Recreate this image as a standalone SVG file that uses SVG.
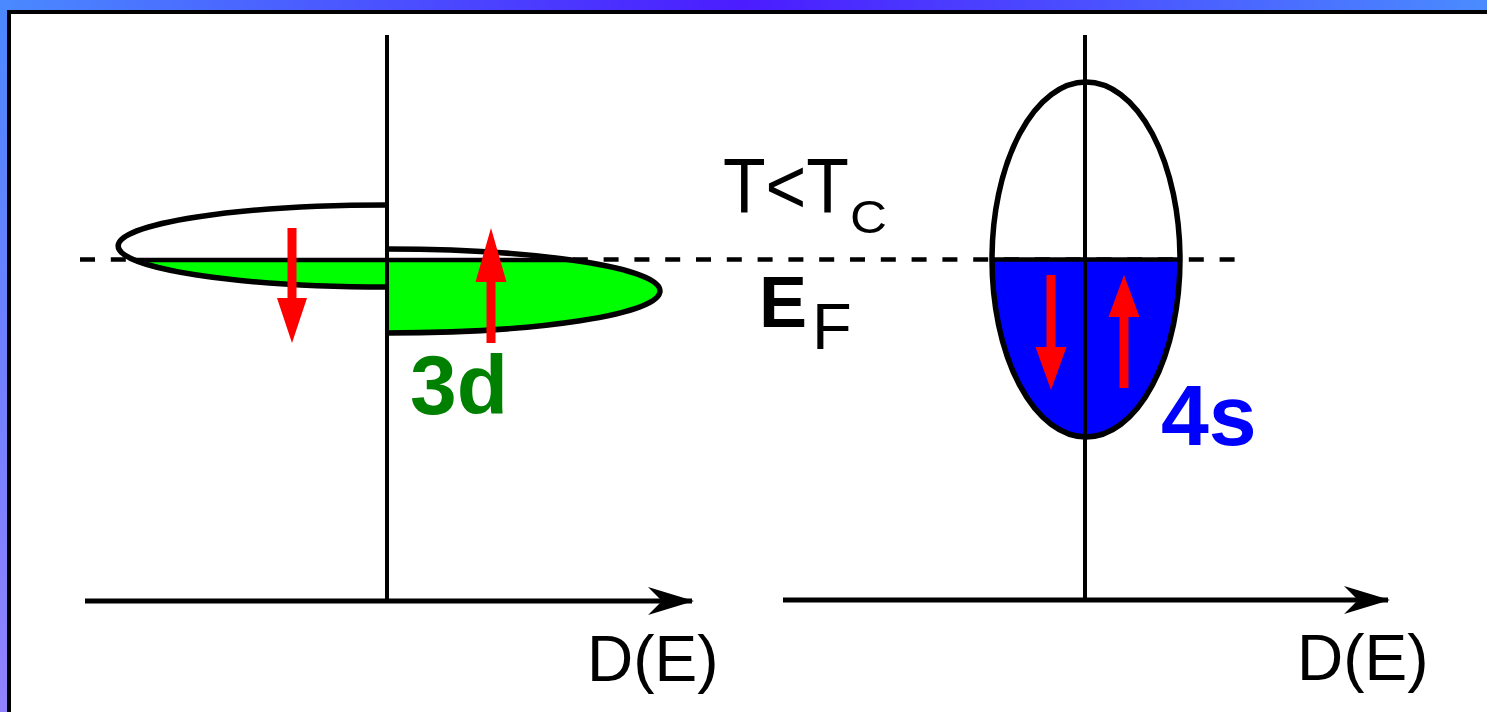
<svg xmlns="http://www.w3.org/2000/svg" width="1487" height="712" viewBox="0 0 1487 712">
  <defs>
    <linearGradient id="topg" x1="0" y1="0" x2="1" y2="0">
      <stop offset="0" stop-color="#4a8aff"/>
      <stop offset="0.5" stop-color="#4b1cff"/>
      <stop offset="1" stop-color="#4a8cff"/>
    </linearGradient>
    <linearGradient id="leftg" x1="0" y1="0" x2="0" y2="1">
      <stop offset="0" stop-color="#4a88ff"/>
      <stop offset="0.5" stop-color="#6f80ff"/>
      <stop offset="1" stop-color="#9282ff"/>
    </linearGradient>
    <marker id="ah" viewBox="0 0 46 28" refX="44" refY="14" markerWidth="46" markerHeight="28" markerUnits="userSpaceOnUse" orient="auto">
      <path d="M0,0 L46,14 L0,28 L14,14 Z" fill="#000"/>
    </marker>
    <style>
      .ax { stroke:#000; stroke-width:5; fill:none; }
      .vax { stroke:#000; stroke-width:4; fill:none; }
      .out { stroke:#000; stroke-width:5.5; fill:none; }
      .ef { stroke:#000; stroke-width:4.5; }
      .red { fill:#ff0000; }
      .lbl { font-family:"Liberation Sans", Arial, sans-serif; fill:#000; }
    </style>
  </defs>

  <g id="frame">
    <rect x="0" y="0" width="1487" height="712" fill="url(#leftg)"/>
    <rect x="0" y="0" width="1487" height="12" fill="url(#topg)"/>
    <rect x="9" y="12" width="1490" height="710" fill="#fff" stroke="#000" stroke-width="4"/>
  </g>

  <g id="fermi-level">
    <line x1="80" y1="259.5" x2="1236" y2="259.5" class="ef" stroke-dasharray="15 15.8"/>
  </g>

  <g id="dos-3d">
    <path d="M387,205 A269,41 0 0 0 387,287 Z" fill="#fff"/>
    <path d="M134.2,260 L387,260 L387,287 A269,41 0 0 1 134.2,260 Z" fill="#00ff00"/>
    <path d="M387,249 A273,42 0 0 1 387,333 Z" fill="#fff"/>
    <path d="M387,260 L571.2,260 A273,42 0 0 1 387,333 Z" fill="#00ff00"/>
    <line x1="134" y1="260" x2="571" y2="260" class="ef"/>
    <path d="M387,205 A269,41 0 0 0 387,287" class="out"/>
    <path d="M387,249 A273,42 0 0 1 387,333" class="out"/>
    <path class="red" d="M287.5,228 H296.5 V298 H307 L292,343 L277,298 H287.5 Z"/>
    <path class="red" d="M491,228 L506.5,282 H495.5 V343 H486.5 V282 H475.5 Z"/>
  </g>

  <g id="dos-4s">
    <path d="M992,259.5 A94,177.5 0 0 0 1180,259.5 Z" fill="#0000ff"/>
    <line x1="992" y1="259.5" x2="1180" y2="259.5" class="ef"/>
    <ellipse cx="1086" cy="259.5" rx="94" ry="177.5" class="out"/>
    <path class="red" d="M1046.5,275 H1055.5 V347 H1066.5 L1051,390 L1035.5,347 H1046.5 Z"/>
    <path class="red" d="M1124,275 L1139.5,317 H1128.5 V388 H1119.5 V317 H1108.5 Z"/>
  </g>

  <g id="connectors">
    <line x1="387" y1="35" x2="387" y2="601" class="vax"/>
    <line x1="1085" y1="35" x2="1085" y2="600" class="vax"/>
    <line x1="85" y1="601" x2="692" y2="601" class="ax" marker-end="url(#ah)"/>
    <line x1="783" y1="600" x2="1388" y2="600" class="ax" marker-end="url(#ah)"/>
  </g>

  <g id="labels">
    <text class="lbl" x="723" y="213" font-size="77" textLength="126" lengthAdjust="spacingAndGlyphs">T&lt;T</text>
    <text class="lbl" x="850" y="233" font-size="47" textLength="37" lengthAdjust="spacingAndGlyphs">C</text>
    <text class="lbl" x="759" y="327" font-size="72" font-weight="bold">E</text>
    <text class="lbl" x="812" y="349" font-size="65">F</text>
    <text x="410" y="414" font-family="Liberation Sans, Arial, sans-serif" font-size="84" font-weight="bold" fill="#008000">3d</text>
    <text x="1161" y="445" font-family="Liberation Sans, Arial, sans-serif" font-size="86" font-weight="bold" fill="#0000ff">4s</text>
    <text class="lbl" x="587" y="681" font-size="64">D(E)</text>
    <text class="lbl" x="1297" y="680" font-size="64">D(E)</text>
  </g>
</svg>
